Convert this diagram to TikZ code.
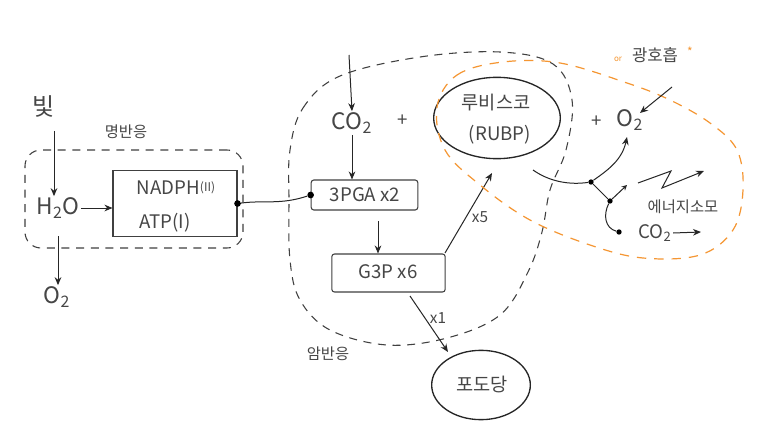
\documentclass[tikz,border=0pt]{standalone}
\usepackage{fontspec}
\setmainfont{Noto Sans CJK KR}
\usetikzlibrary{arrows.meta,shapes.geometric}
\definecolor{ink}{RGB}{70,70,70}
\definecolor{orng}{RGB}{245,150,50}
\tikzset{
  lbl/.style={text=ink, inner sep=1pt},
  big/.style={lbl, font=\fontsize{17}{19}\selectfont},
  mid/.style={lbl, font=\fontsize{14}{16}\selectfont},
  sml/.style={lbl, font=\fontsize{11.5}{13}\selectfont},
  arr/.style={-{Stealth[length=6pt,width=5pt]}, line width=0.75pt, draw=black!85},
  ln/.style={line width=0.75pt, draw=black!85},
  dashloop/.style={draw=black!75, dash pattern=on 6pt off 5pt, line width=0.8pt},
  orangeloop/.style={draw=orng, dash pattern=on 7pt off 6pt, line width=0.9pt},
  dotnode/.style={circle, fill=black, inner sep=0pt, minimum size=5pt},
  boxnode/.style={draw=black!75, line width=0.8pt, rounded corners=2pt},
}
\begin{document}
\begin{tikzpicture}[x=0.75pt,y=-0.75pt]
\useasboundingbox[fill=white] (0,0) rectangle (768,435);

% ---- light reaction ----
\node[draw=black!75, dash pattern=on 6pt off 5pt, line width=0.8pt, rounded corners=12pt,
      minimum width=163.5pt, minimum height=73.5pt] (lightbox) at (134,199) {};
\node[sml] (lighttitle) at (126,132) {명반응};
\node[lbl, font=\fontsize{18}{20}\selectfont] (bit) at (44,107) {빛};
\node[big] (h2o) at (58,208) {H\textsubscript{2}O};
\node[big] (o2a) at (57,297) {O\textsubscript{2}};
\node[boxnode, rounded corners=0pt, minimum width=93pt, minimum height=50pt] (nadph) at (175,203.5) {};
\node[mid] (nadphtxt) at (176,188) {NADPH\raisebox{0.35ex}{\small(II)}};
\node[mid] (atptxt) at (165,223) {ATP(I)};
\coordinate (bitend) at (54,131);
\coordinate (o2start) at (58,236);
\draw[arr] (bitend) -- (h2o.north -| bitend);
\draw[arr] (o2start) -- (o2a.north -| o2start);
\draw[arr] (h2o.east) -- (nadph.west |- h2o.east);

% ---- dark reaction ----
\draw[dashloop] plot[smooth cycle, tension=0.6] coordinates {
 (290,150) (303,108) (340,76) (420,57) (500,52) (553,64) (572,100) (566,150)
 (550,190) (542,232) (528,272) (500,315) (447,338) (387,345) (330,330) (300,300)
 (290,260) (289,200)};
\node[sml] (darktitle) at (328,354) {암반응};
\coordinate (co2in) at (349,55);
\node[big] (co2) at (352,123) {CO\textsubscript{2}};
\node[mid] (plus1) at (403,121) {+};
\node[boxnode, minimum width=80pt, minimum height=22.5pt] (pga) at (364.5,195) {};
\node[mid] (pgatxt) at (365,195) {3PGA x2};
\node[boxnode, minimum width=85pt, minimum height=28.5pt] (g3p) at (388.5,273) {};
\node[mid] (g3ptxt) at (388,272) {G3P x6};
\draw[arr] (co2in) -- (co2.north);
\draw[arr] (co2.south) -- (pga.north -| co2.south);
\coordinate (pgaout) at (378,221);
\draw[arr] (pgaout) -- (g3p.north -| pgaout);

% connection light -> dark
\node[dotnode] (dotl) at (nadph.east) {};
\node[dotnode] (dotr) at (pga.west) {};
\draw[ln] (dotl) .. controls (265,200) and (280,205) .. (dotr);

% rubisco
\node[draw=black!85, line width=1pt, ellipse, minimum width=95pt, minimum height=61pt] (rubisco) at (497,118) {};
\node[mid] (rubtxt) at (496,103) {루비스코};
\node[mid] (rubptxt) at (500,135) {(RUBP)};
\coordinate (x5start) at (445,253);
\coordinate (x5end) at (492,173);
\draw[arr] (x5start) -- (x5end);
\node[sml] (x5) at (480,217) {x5};
\node[draw=black!85, line width=1pt, ellipse, minimum width=74pt, minimum height=52pt] (glucose) at (481,385) {};
\node[mid] (glutxt) at (482,384) {포도당};
\coordinate (x1start) at (410,296);
\coordinate (x1end) at (448,352);
\draw[arr] (x1start) -- (x1end);
\node[sml] (x1) at (438,318) {x1};

% ---- photorespiration ----
\draw[orangeloop] plot[smooth cycle, tension=0.6] coordinates {
 (437,107) (457,75) (503,62) (560,63) (627,83) (670,100) (710,123) (737,150)
 (743,190) (733,230) (700,255) (643,258) (590,245) (530,220) (480,185) (445,150)};
\node[lbl, text=orng, font=\fontsize{6}{7}\selectfont] (ortxt) at (618,59) {or};
\node[lbl, font=\fontsize{12.5}{14}\selectfont] (photo) at (655,55) {광호흡};
\node[lbl, text=orng, font=\fontsize{9}{10}\selectfont] (star) at (690,52) {*};
\node[mid] (plus2) at (597,122) {+};
\node[big] (o2b) at (630,120) {O\textsubscript{2}};
\coordinate (o2in) at (672,87);
\coordinate (o2tip) at (640,113);
\draw[arr] (o2in) -- (o2tip);

\coordinate (rubout) at (533,170);
\node[dotnode, minimum size=4pt] (b1) at (591,182) {};
\node[dotnode, minimum size=4pt] (b2) at (610,201) {};
\node[dotnode, minimum size=4pt] (b3) at (619,232) {};
\coordinate (b1up) at (627,137);
\coordinate (b2up) at (627,185);
\draw[ln] (rubout) .. controls (550,182) and (570,185) .. (b1);
\draw[arr] (b1) .. controls (608,170) and (622,160) .. (b1up);
\draw[ln] (b1) -- (b2);
\draw[arr, -{Stealth[length=4pt,width=4pt]}] (b2) -- (b2up);
\draw[ln] (b2) .. controls (603,215) and (605,228) .. (b3);

\coordinate (z0) at (638,183);
\coordinate (z1) at (671,171);
\coordinate (z2) at (662,188);
\coordinate (z3) at (704,171);
\draw[arr] (z0) -- (z1) -- (z2) -- (z3);
\node[sml] (energy) at (683,207) {에너지소모};
\node[mid] (co2b) at (655,233) {CO\textsubscript{2}};
\coordinate (co2bout) at (701,232);
\draw[arr] (co2b.east) -- (co2bout);
\end{tikzpicture}
\end{document}
